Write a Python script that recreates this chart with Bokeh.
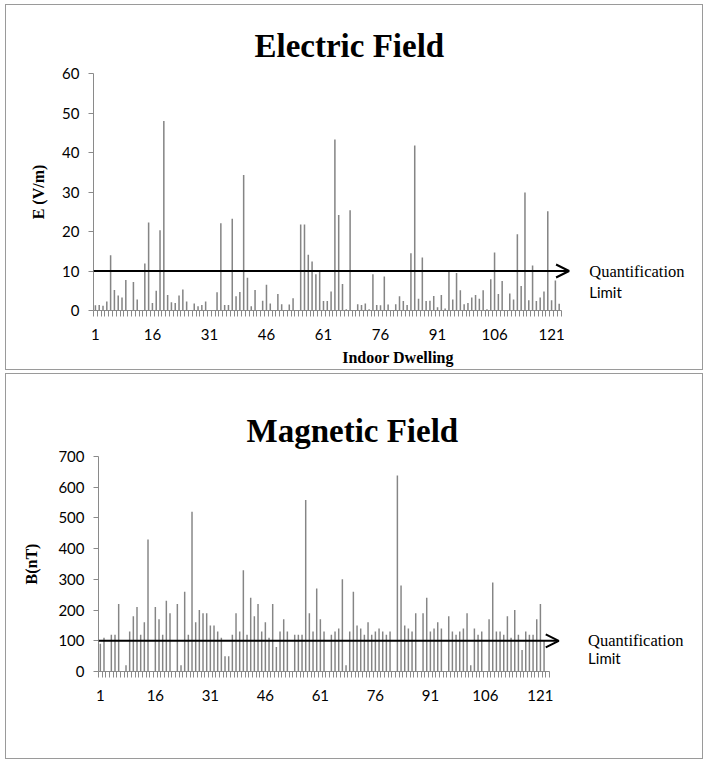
from bokeh.plotting import figure
from bokeh.models import FixedTicker, Arrow, OpenHead, Label, Range1d
from bokeh.embed import file_html
from bokeh.resources import INLINE

dwellings = list(range(1, 124))

e_field = [1.3, 1.4, 1.2, 2.3, 14.0, 5.2, 3.8, 3.3, 7.7, 0.0,
           7.2, 2.8, 0.0, 11.9, 22.3, 1.9, 5.0, 20.3, 48.0, 3.9,
           2.1, 1.9, 3.8, 5.3, 2.3, 0.0, 1.8, 1.1, 1.4, 2.3,
           0.0, 0.0, 4.6, 22.1, 1.4, 1.4, 23.2, 3.6, 4.7, 34.3,
           8.3, 1.1, 5.2, 0.0, 2.5, 6.5, 1.8, 0.0, 4.2, 1.6,
           0.0, 1.5, 3.1, 0.0, 21.8, 21.8, 14.1, 12.4, 9.2, 10.1,
           2.4, 2.4, 4.8, 43.3, 24.2, 6.7, 0.3, 25.4, 0.0, 1.6,
           1.4, 1.8, 0.3, 9.2, 1.4, 1.3, 8.6, 1.5, 0.0, 1.6,
           3.6, 2.4, 1.4, 14.5, 41.8, 3.0, 13.4, 2.4, 2.5, 3.7,
           0.8, 3.9, 0.5, 9.9, 2.8, 9.5, 5.1, 1.6, 1.9, 3.3,
           3.9, 3.0, 5.1, 0.3, 7.9, 14.7, 4.2, 7.5, 0.0, 4.3,
           2.8, 19.3, 6.2, 29.9, 2.6, 11.4, 2.4, 3.3, 4.8, 25.1,
           2.6, 7.6, 1.7]

b_field = [90, 110, 0, 120, 120, 220, 0, 20, 130, 180,
           210, 120, 160, 430, 0, 210, 170, 120, 230, 190,
           0, 220, 20, 260, 120, 520, 160, 200, 190, 190,
           150, 150, 130, 110, 50, 50, 120, 190, 130, 330,
           120, 240, 180, 220, 130, 160, 110, 220, 80, 130,
           170, 130, 0, 120, 120, 120, 558, 190, 130, 270,
           170, 130, 0, 120, 130, 140, 300, 20, 130, 260,
           150, 140, 120, 160, 120, 130, 140, 130, 120, 130,
           0, 638, 280, 150, 140, 130, 190, 0, 190, 240,
           130, 140, 160, 140, 0, 180, 130, 120, 130, 140,
           190, 20, 140, 120, 130, 0, 170, 290, 130, 130,
           120, 180, 110, 200, 120, 70, 130, 120, 120, 170,
           220, 100, 0]

x_tick_labels = [1, 16, 31, 46, 61, 76, 91, 106, 121]
e_ticks = [0, 10, 20, 30, 40, 50, 60]
b_ticks = [0, 100, 200, 300, 400, 500, 600, 700]
limit_e = 10
limit_b = 100

BAR = "#858585"
AXIS = "#8a8a8a"
SERIF = "Liberation Serif"
SANS = "Lato"


def panel(title, values, ymax, yticks, ylabel, xlabel, limit, height, margin,
          mbl, mbt, mbb, xmax, title_offset, title_standoff, ylab_standoff,
          arrow_end, text_x, limit_text_y):
    n = len(dwellings)
    p = figure(width=698, height=height,
               x_range=Range1d(0.5, xmax),
               y_range=Range1d(0, ymax),
               output_backend="svg", toolbar_location=None,
               min_border_left=mbl, min_border_right=2,
               min_border_top=mbt, min_border_bottom=mbb,
               title=title, margin=margin)
    p.styles = {"border": "1px solid #9a9a9a"}
    p.outline_line_color = None
    p.grid.visible = False
    p.background_fill_color = "white"
    p.border_fill_color = "white"

    p.title.text_font = SERIF
    p.title.text_font_style = "bold"
    p.title.text_font_size = "33px"
    p.title.align = "left"
    p.title.offset = title_offset
    p.title.standoff = title_standoff
    p.title.text_color = "black"

    p.vbar(x=dwellings, top=values, width=0.4, bottom=0,
           fill_color=BAR, line_color=None)

    ya = p.yaxis[0]
    ya.ticker = FixedTicker(ticks=yticks)
    ya.axis_line_color = AXIS
    ya.major_tick_line_color = AXIS
    ya.major_tick_out = 5
    ya.major_tick_in = 0
    ya.minor_tick_line_color = None
    ya.major_label_text_font = SANS
    ya.major_label_text_font_size = "15px"
    ya.major_label_text_color = "black"
    ya.major_label_standoff = 9
    ya.axis_label = ylabel
    ya.axis_label_text_font = SERIF
    ya.axis_label_text_font_style = "bold"
    ya.axis_label_text_font_size = "16px"
    ya.axis_label_text_color = "black"
    ya.axis_label_standoff = ylab_standoff

    xa = p.xaxis[0]
    xa.bounds = (0.5, n + 0.5)
    xa.ticker = FixedTicker(ticks=x_tick_labels,
                            minor_ticks=[i + 0.5 for i in range(n + 1)])
    xa.axis_line_color = AXIS
    xa.major_tick_line_color = None
    xa.minor_tick_line_color = AXIS
    xa.minor_tick_out = 6
    xa.minor_tick_in = 0
    xa.major_label_text_font = SANS
    xa.major_label_text_font_size = "15px"
    xa.major_label_text_color = "black"
    xa.major_label_standoff = 12
    if xlabel:
        xa.axis_label = xlabel
        xa.axis_label_text_font = SERIF
        xa.axis_label_text_font_style = "bold"
        xa.axis_label_text_font_size = "16px"
        xa.axis_label_text_color = "black"
        xa.axis_label_standoff = 6

    p.add_layout(Arrow(end=OpenHead(size=13, line_width=2, line_color="black"),
                       x_start=0.5, y_start=limit, x_end=arrow_end, y_end=limit,
                       line_width=2, line_color="black"))
    p.add_layout(Label(x=text_x, y=limit, text="Quantification",
                       text_font=SERIF, text_font_size="16.5px",
                       text_baseline="middle", text_color="black"))
    p.add_layout(Label(x=text_x, y=limit_text_y, text="Limit",
                       text_font=SANS, text_font_size="15px",
                       text_baseline="middle", text_color="black"))
    return p


p1 = panel("Electric Field", e_field, 60, e_ticks, "E (V/m)", "Indoor Dwelling",
           limit_e, 366, (4, 0, 0, 5), 87, 68, 61, 160.7, 161, 19, 12,
           125.6, 130.9, 4.6)
p2 = panel("Magnetic Field", b_field, 700, b_ticks, "B(nT)", None,
           limit_b, 386, (3, 0, 0, 5), 92, 82, 89, 165.2, 148, 15, 15,
           126.0, 134.0, 43)

open("out.html", "w").write(file_html([p1, p2], INLINE))
